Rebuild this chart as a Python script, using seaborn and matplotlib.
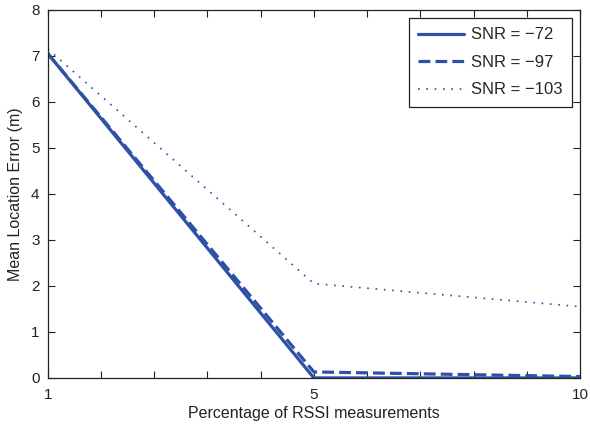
import matplotlib
matplotlib.use("Agg")
import matplotlib.pyplot as plt
import seaborn as sns
from matplotlib.ticker import MultipleLocator, FixedLocator, FixedFormatter

sns.set_style("ticks")
plt.rcParams['font.family'] = ['Liberation Sans', 'DejaVu Sans']

# x positions on the (evenly spaced) axis and their tick labels
x_pos = [0, 5, 10]
x_labels = ["1", "5", "10"]
snr_72 = [7.05, 0.0, 0.0]
snr_97 = [7.05, 0.13, 0.03]
snr_103 = [7.15, 2.05, 1.55]
labels = ["SNR = \u221272", "SNR = \u221297", "SNR = \u2212103"]

color = "#2d51a6"
fig = plt.figure(figsize=(5.9, 4.28), dpi=100)
ax = fig.add_axes([0.081, 0.117, 0.902, 0.860])

styles = [("-", 2.3, None), ("--", 2.3, None), (":", 1.2, (1, 4))]
for vals, lab, (ls, lw, dsh) in zip([snr_72, snr_97, snr_103], labels, styles):
    line = sns.lineplot(x=x_pos, y=vals, ax=ax, color=color, linestyle=ls, linewidth=lw, label=lab).lines[-1]
    if dsh is not None:
        line.set_dashes(dsh)

ax.set_xlim(0, 10)
ax.set_ylim(0, 8)
ax.xaxis.set_major_locator(FixedLocator(x_pos))
ax.xaxis.set_major_formatter(FixedFormatter(x_labels))
ax.xaxis.set_minor_locator(MultipleLocator(1))
ax.yaxis.set_major_locator(MultipleLocator(1))
ax.tick_params(which='both', direction='in', top=True, right=True, labelsize=11, colors='#222222')
ax.tick_params(which='major', length=5, width=0.8)
ax.tick_params(which='minor', length=5, width=0.8)
ax.tick_params(axis='x', which='major', pad=7)
ax.tick_params(axis='y', which='major', pad=6)
for s in ax.spines.values():
    s.set_color('#222222')
    s.set_linewidth(0.9)
ax.set_xlabel("Percentage of RSSI measurements", fontsize=11.5, color='#222222', labelpad=3)
ax.set_ylabel("Mean Location Error (m)", fontsize=11.5, color='#222222', labelpad=6)

leg = ax.legend(loc='upper right', fontsize=12, handlelength=2.75, frameon=True, fancybox=False,
                edgecolor='#222222', framealpha=1, borderaxespad=0.5, labelspacing=0.75,
                handletextpad=0.4, borderpad=0.55)
leg.get_frame().set_linewidth(0.9)

fig.savefig("out.png", dpi=100)
